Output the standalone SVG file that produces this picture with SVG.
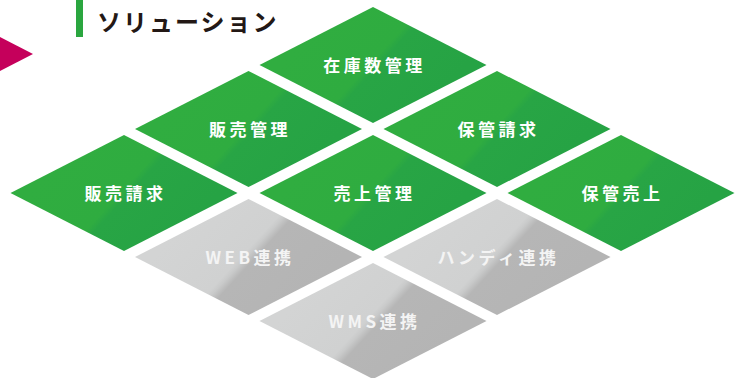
<svg xmlns="http://www.w3.org/2000/svg" width="741" height="378" viewBox="0 0 741 378">
<defs>
<linearGradient id="gG" x1="0.16" y1="0.34" x2="0.84" y2="0.66">
<stop offset="0" stop-color="#30ad40"/>
<stop offset="0.48" stop-color="#2fac40"/>
<stop offset="0.53" stop-color="#28a545"/>
<stop offset="1" stop-color="#26a344"/>
</linearGradient>
<linearGradient id="gY" x1="0.16" y1="0.34" x2="0.84" y2="0.66">
<stop offset="0" stop-color="#d3d4d4"/>
<stop offset="0.46" stop-color="#d0d1d1"/>
<stop offset="0.49" stop-color="#c9caca"/>
<stop offset="0.54" stop-color="#b6b6b6"/>
<stop offset="1" stop-color="#b4b4b4"/>
</linearGradient>
<style>
.g{fill:url(#gG)}
.y{fill:url(#gY)}
.t{font-family:"Noto Sans CJK JP","Noto Sans",sans-serif;font-weight:bold;font-size:17px;letter-spacing:3.5px;text-anchor:middle;fill:#ffffff}
.ty{fill:#f4f4f4}
.title{font-family:"Noto Sans CJK JP","Noto Sans",sans-serif;font-weight:bold;font-size:24px;letter-spacing:2px;fill:#231815}
</style>
</defs>
<g id="header">
<rect x="76" y="0" width="7" height="37" fill="#2aa63f"/>
<text class="title" x="97" y="31">ソリューション</text>
<polygon points="0,37 33,54 0,71" fill="#c5005b"/>
</g>
<g id="connectors"></g>
<g id="n-zaiko" transform="translate(373,65)">
<polygon class="g" points="0,-58 113.5,0 0,58 -113.5,0"/>
<text class="t" x="1.5" y="7">在庫数管理</text>
</g>
<g id="n-hanbaikanri" transform="translate(248.5,129)">
<polygon class="g" points="0,-58 113.5,0 0,58 -113.5,0"/>
<text class="t" x="1.5" y="7">販売管理</text>
</g>
<g id="n-hokanseikyu" transform="translate(497,129)">
<polygon class="g" points="0,-58 113.5,0 0,58 -113.5,0"/>
<text class="t" x="1.5" y="7">保管請求</text>
</g>
<g id="n-hanbaiseikyu" transform="translate(124,193)">
<polygon class="g" points="0,-58 113.5,0 0,58 -113.5,0"/>
<text class="t" x="1.5" y="7">販売請求</text>
</g>
<g id="n-uriagekanri" transform="translate(373,193)">
<polygon class="g" points="0,-58 113.5,0 0,58 -113.5,0"/>
<text class="t" x="1.5" y="7">売上管理</text>
</g>
<g id="n-hokanuriage" transform="translate(621,193)">
<polygon class="g" points="0,-58 113.5,0 0,58 -113.5,0"/>
<text class="t" x="1.5" y="7">保管売上</text>
</g>
<g id="n-web" transform="translate(248.5,257)">
<polygon class="y" points="0,-58 113.5,0 0,58 -113.5,0"/>
<text class="t ty" x="1.5" y="7">WEB連携</text>
</g>
<g id="n-handy" transform="translate(497,257)">
<polygon class="y" points="0,-58 113.5,0 0,58 -113.5,0"/>
<text class="t ty" x="1.5" y="7">ハンディ連携</text>
</g>
<g id="n-wms" transform="translate(373,321)">
<polygon class="y" points="0,-58 113.5,0 0,58 -113.5,0"/>
<text class="t ty" x="1.5" y="7">WMS連携</text>
</g>
</svg>
